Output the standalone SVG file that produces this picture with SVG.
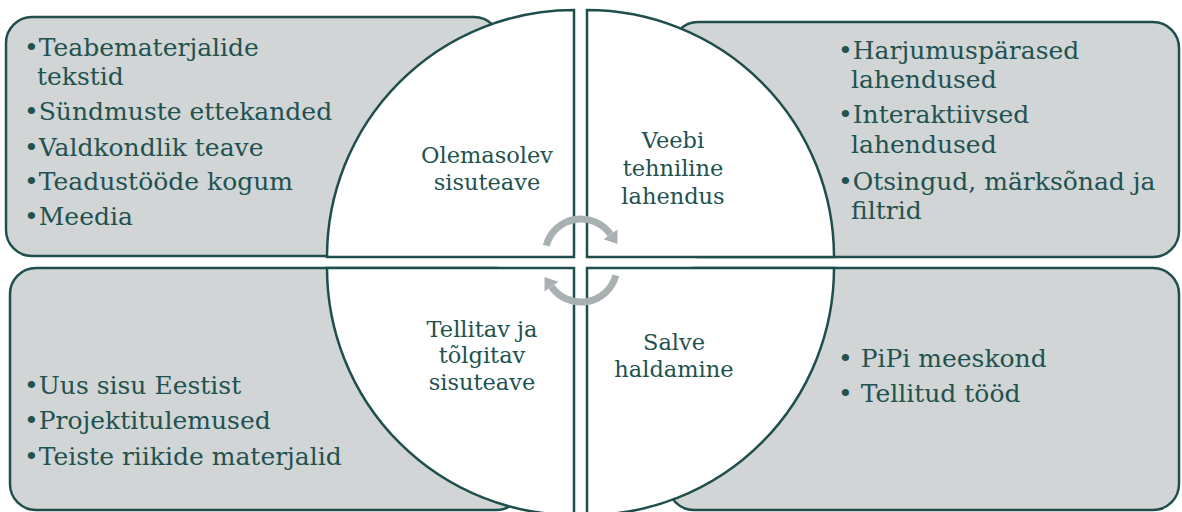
<svg xmlns="http://www.w3.org/2000/svg" width="1182" height="512" viewBox="0 0 1182 512">
<style>
.box{fill:#d1d5d6;stroke:#1f4e4d;stroke-width:2.5}
.q{fill:#ffffff;stroke:#1f4e4d;stroke-width:2.5;stroke-linejoin:miter}
.t{font-family:"DejaVu Serif","Liberation Serif",serif;font-size:25px;fill:#22524f}
.c{font-family:"DejaVu Serif","Liberation Serif",serif;font-size:22.5px;fill:#22524f;text-anchor:middle}
.arc{fill:none;stroke:#a9b0b1;stroke-width:7}
.ah{fill:#a9b0b1}
</style>
<rect width="1182" height="512" fill="#ffffff"/>
<g id="box-tl"><rect class="box" x="6" y="17" width="494" height="239" rx="26"/></g>
<g id="box-tr"><rect class="box" x="672" y="22" width="507" height="235" rx="26"/></g>
<g id="box-bl"><rect class="box" x="10" y="268" width="512" height="242" rx="26"/></g>
<g id="box-br"><rect class="box" x="668" y="268" width="511" height="242" rx="26"/></g>
<g id="quad-tl"><path class="q" d="M574 257 L327 257 A247 247 0 0 1 574 10 Z"/></g>
<g id="quad-tr"><path class="q" d="M587 257 L587 10 A247 247 0 0 1 834 257 Z"/></g>
<g id="quad-bl"><path class="q" d="M574 268 L574 515 A247 247 0 0 1 327 268 Z"/></g>
<g id="quad-br"><path class="q" d="M587 268 L834 268 A247 247 0 0 1 587 515 Z"/></g>
<g id="connectors">
<path class="arc" d="M546.2 245.7 A36 36 0 0 1 610.5 234.3"/>
<polygon class="ah" points="617.4,244.1 617.5,229.4 603.6,239.2"/>
<path class="arc" d="M615.8 275.3 A36 36 0 0 1 551.5 286.7"/>
<polygon class="ah" points="544.6,276.9 544.5,291.6 558.4,281.8"/>
</g>
<g id="text-tl">
<text class="t" x="24" y="56">•Teabematerjalide</text>
<text class="t" x="37" y="85">tekstid</text>
<text class="t" x="24" y="120">•Sündmuste ettekanded</text>
<text class="t" x="24" y="156">•Valdkondlik teave</text>
<text class="t" x="24" y="190">•Teadustööde kogum</text>
<text class="t" x="24" y="225">•Meedia</text>
</g>
<g id="text-tr">
<text class="t" x="838" y="59">•Harjumuspärased</text>
<text class="t" x="851" y="88">lahendused</text>
<text class="t" x="838" y="123">•Interaktiivsed</text>
<text class="t" x="851" y="153">lahendused</text>
<text class="t" x="838" y="190">•Otsingud, märksõnad ja</text>
<text class="t" x="851" y="219">filtrid</text>
</g>
<g id="text-bl">
<text class="t" x="24" y="394">•Uus sisu Eestist</text>
<text class="t" x="24" y="429">•Projektitulemused</text>
<text class="t" x="24" y="465">•Teiste riikide materjalid</text>
</g>
<g id="text-br">
<text class="t" x="838" y="367">• PiPi meeskond</text>
<text class="t" x="838" y="402">• Tellitud tööd</text>
</g>
<g id="label-tl">
<text class="c" x="487" y="163">Olemasolev</text>
<text class="c" x="487" y="190">sisuteave</text>
</g>
<g id="label-tr">
<text class="c" x="673" y="148">Veebi</text>
<text class="c" x="673" y="176">tehniline</text>
<text class="c" x="673" y="204">lahendus</text>
</g>
<g id="label-bl">
<text class="c" x="482" y="337">Tellitav ja</text>
<text class="c" x="482" y="363">tõlgitav</text>
<text class="c" x="482" y="390">sisuteave</text>
</g>
<g id="label-br">
<text class="c" x="674" y="350">Salve</text>
<text class="c" x="674" y="377">haldamine</text>
</g>
</svg>
